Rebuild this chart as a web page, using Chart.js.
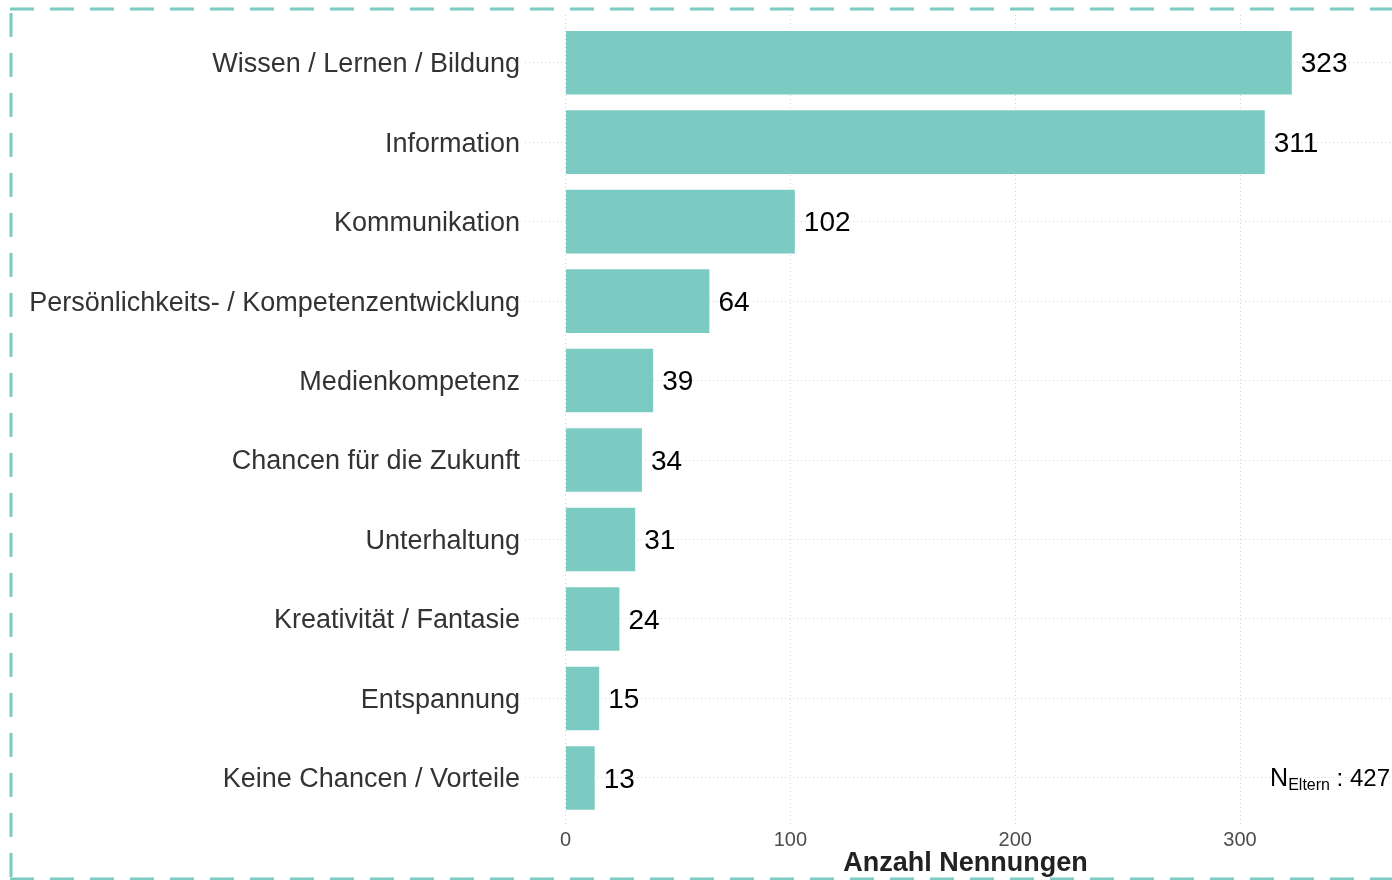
<!DOCTYPE html>
<html>
<head>
<meta charset="utf-8">
<script src="https://cdn.jsdelivr.net/npm/chart.js@4.4.1/dist/chart.umd.min.js"></script>
<style>
  html, body { margin: 0; padding: 0; background: #fff; overflow: hidden; }
  #wrap { width: 1406px; height: 880px; position: relative; }
</style>
</head>
<body>
<div id="wrap"><canvas id="chart"></canvas></div>
<script>
// categories top to bottom, counts
const categories = [
  'Wissen / Lernen / Bildung',
  'Information',
  'Kommunikation',
  'Persönlichkeits- / Kompetenzentwicklung',
  'Medienkompetenz',
  'Chancen für die Zukunft',
  'Unterhaltung',
  'Kreativität / Fantasie',
  'Entspannung',
  'Keine Chancen / Vorteile'
];
const counts = [323, 311, 102, 64, 39, 34, 31, 24, 15, 13];
const xTicks = [0, 100, 200, 300];
const sampleSize = 427;

const teal = '#7ccbc2';
const gridColor = '#d3d3d3';
const font = "'Liberation Sans', Arial, sans-serif";

// dashed frame round the whole picture
const framePlugin = {
  id: 'frame',
  beforeDraw(chart) {
    const ctx = chart.ctx;
    ctx.save();
    ctx.strokeStyle = '#7ccbc2';
    ctx.lineWidth = 3;
    ctx.setLineDash([24, 16]);
    ctx.beginPath();
    ctx.moveTo(10, 9); ctx.lineTo(chart.width, 9);      // top
    ctx.moveTo(11, 13); ctx.lineTo(11, chart.height);   // left
    ctx.moveTo(10, 879); ctx.lineTo(chart.width, 879);  // bottom
    ctx.stroke();
    ctx.restore();
  }
};

// numbers at the end of each bar + the N note
const labelPlugin = {
  id: 'barLabels',
  afterDatasetsDraw(chart) {
    const ctx = chart.ctx;
    const meta = chart.getDatasetMeta(0);
    ctx.save();
    ctx.fillStyle = '#000';
    ctx.font = '28px ' + font;
    ctx.textAlign = 'left';
    ctx.textBaseline = 'middle';
    meta.data.forEach((bar, i) => {
      ctx.fillText(String(counts[i]), bar.x + 9, bar.y + 2);
    });

    // N_Eltern : 427, right aligned in the last row
    const yBase = chart.scales.y.getPixelForValue(categories.length - 1) + 8;
    const right = chart.chartArea.right - 16;
    const tail = ' : ' + sampleSize;
    ctx.textBaseline = 'alphabetic';
    ctx.font = '24px ' + font;
    const wTail = ctx.measureText(tail).width;
    ctx.font = '16px ' + font;
    const wSub = ctx.measureText('Eltern').width;
    ctx.font = '25px ' + font;
    const wN = ctx.measureText('N').width;
    let x = right - wTail - wSub - wN;
    ctx.fillStyle = '#000';
    ctx.fillText('N', x, yBase);
    x += wN;
    ctx.font = '16px ' + font;
    ctx.fillText('Eltern', x, yBase + 4);
    x += wSub;
    ctx.font = '24px ' + font;
    ctx.fillText(tail, x, yBase);
    ctx.restore();
  }
};

new Chart(document.getElementById('chart'), {
  type: 'bar',
  data: {
    datasets: [{
      data: counts.map((v, i) => ({ x: v, y: i })),
      backgroundColor: teal,
      borderWidth: 0,
      barPercentage: 0.8,
      categoryPercentage: 1
    }]
  },
  options: {
    indexAxis: 'y',
    responsive: true,
    maintainAspectRatio: false,
    animation: false,
    layout: { padding: { top: 15, left: 0, right: 0, bottom: 0 } },
    plugins: {
      legend: { display: false },
      tooltip: { enabled: false }
    },
    scales: {
      x: {
        type: 'linear',
        min: -18,
        max: 373.8,
        afterBuildTicks: (scale) => { scale.ticks = xTicks.map(v => ({ value: v })); },
        grid: { color: gridColor, lineWidth: 1, drawTicks: false },
        border: { display: false, dash: [1, 3] },
        ticks: {
          color: '#4d4d4d',
          font: { family: font, size: 20 },
          padding: 3
        },
        title: {
          display: true,
          text: 'Anzahl Nennungen',
          color: '#222',
          font: { family: font, size: 27, weight: 'bold' },
          padding: { top: 0, bottom: 0 }
        },
        afterFit: (scale) => { scale.height = 54.4; }
      },
      y: {
        type: 'linear',
        reverse: true,
        offset: false,
        min: -0.6,
        max: categories.length - 0.4,
        afterBuildTicks: (scale) => { scale.ticks = categories.map((c, i) => ({ value: i })); },
        grid: { color: gridColor, lineWidth: 1, drawTicks: false, offset: false },
        border: { display: false, dash: [1, 3] },
        ticks: {
          color: '#333',
          font: { family: font, size: 27 },
          padding: 5,
          labelOffset: 2,
          callback: (v) => categories[v]
        },
        afterFit: (scale) => {
          scale.width = 525;
          scale.paddingTop = 0;
          scale.paddingBottom = 0;
        }
      }
    }
  },
  plugins: [framePlugin, labelPlugin]
});
</script>
</body>
</html>
